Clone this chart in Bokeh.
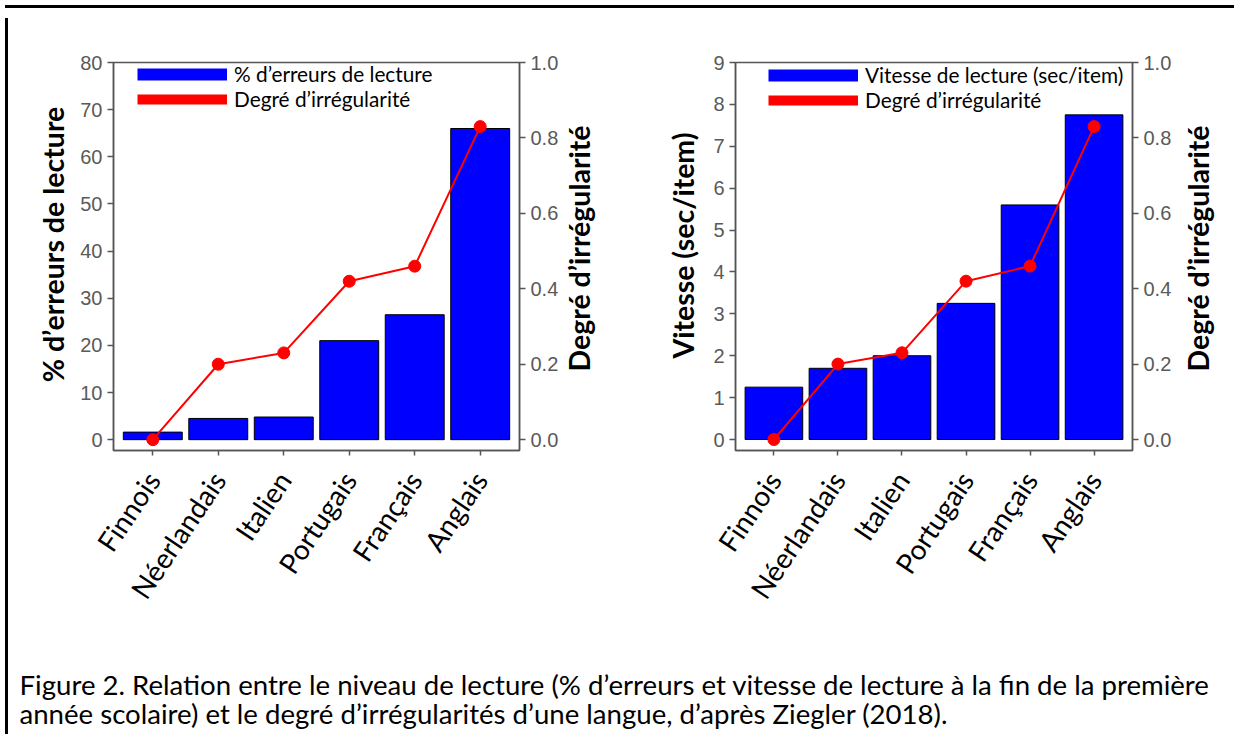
import math
from bokeh.plotting import figure
from bokeh.models import (FactorRange, Range1d, LinearAxis, FixedTicker, NumeralTickFormatter,
                          ColumnDataSource, Legend, LegendItem, Label, Div)
from bokeh.core.properties import value
from bokeh.layouts import column, row
from bokeh.embed import file_html
from bokeh.resources import INLINE

langues = ["Finnois", "Néerlandais", "Italien", "Portugais", "Français", "Anglais"]
erreurs = [1.6, 4.5, 4.8, 21.0, 26.5, 66.0]
vitesse = [1.25, 1.7, 2.0, 3.25, 5.6, 7.75]
irregularite = [0.0, 0.20, 0.23, 0.42, 0.46, 0.83]

left_ticks = [0, 10, 20, 30, 40, 50, 60, 70, 80]
right_ticks = [0.0, 0.2, 0.4, 0.6, 0.8, 1.0]
vit_ticks = [0, 1, 2, 3, 4, 5, 6, 7, 8, 9]

caption1 = "Figure 2. Relation entre le niveau de lecture (% d’erreurs et vitesse de lecture à la fin de la première"
caption2 = "année scolaire) et le degré d’irrégularités d’une langue, d’après Ziegler (2018)."

FONT = "Lato"
AX_COL = "#555555"
TICK_COL = "#5a5a5a"
H = 629
MBT = 49
MBB = 192
FH = H - MBT - MBB  # 388 px frame height


def title_fig(text, width, cx, cy):
    """Narrow figure carrying a vertical axis title (reading bottom to top).
    cx, cy: title centre in pixels inside the figure (cy measured from the frame top)."""
    t = figure(width=width, height=H, min_border_left=0, min_border_right=0,
               min_border_top=MBT, min_border_bottom=MBB,
               x_range=Range1d(0, width), y_range=Range1d(FH, 0),
               x_axis_location=None, y_axis_location=None,
               output_backend="svg", toolbar_location=None)
    t.outline_line_color = None
    t.xgrid.grid_line_color = None
    t.ygrid.grid_line_color = None
    src = ColumnDataSource(dict(x=[cx], y=[cy], text=[text]))
    t.text(x="x", y="y", text="text", source=src, angle=math.pi / 2,
           text_align="center", text_baseline="middle",
           text_font=value(FONT), text_font_style="bold", text_font_size="28.5px",
           text_color="black")
    return t


def make_chart(values, bar_label, ymax, ymin, yticks, width, bl, br, leg_x, leg_y1, leg_y2):
    src = ColumnDataSource(dict(lang=langues, val=values, irr=irregularite))
    p = figure(x_range=FactorRange(factors=langues, range_padding=0.1, range_padding_units="absolute"),
               y_range=Range1d(ymin, ymax), width=width, height=H,
               min_border_left=bl, min_border_right=br, min_border_top=MBT, min_border_bottom=MBB,
               output_backend="svg", toolbar_location=None, y_axis_location=None)
    p.extra_y_ranges = {"irr": Range1d(ymin / ymax, 1.0), "hidden": Range1d(5.0, 6.0)}
    p.xgrid.grid_line_color = None
    p.ygrid.grid_line_color = None
    p.outline_line_color = AX_COL
    p.outline_line_width = 1.5
    p.background_fill_color = "white"
    p.border_fill_color = "white"

    p.vbar(x="lang", top="val", width=0.9, source=src, fill_color="#0000FF", line_color="black", line_width=1)
    p.line(x="lang", y="irr", source=src, y_range_name="irr", line_color="#FF0000", line_width=2)
    p.scatter(x="lang", y="irr", source=src, y_range_name="irr", size=12, fill_color="#FF0000", line_color="#FF0000")

    # legend swatches (drawn out of view, only their legend glyphs show)
    r_b = p.line(x="lang", y="irr", source=src, y_range_name="hidden", line_color="#0000FF", line_width=12, line_cap="butt")
    r_r = p.line(x="lang", y="irr", source=src, y_range_name="hidden", line_color="#FF0000", line_width=10, line_cap="butt")
    for lab, rend, ly in ((bar_label, r_b, leg_y1), ("Degré d’irrégularité", r_r, leg_y2)):
        leg = Legend(items=[LegendItem(label=lab, renderers=[rend])],
                     location=(leg_x, ly), margin=0, padding=0, spacing=0,
                     glyph_width=90, glyph_height=22, label_height=22, label_standoff=7,
                     label_text_font=FONT, label_text_font_size="20.8px", label_text_color="black",
                     border_line_color=None, background_fill_alpha=0)
        p.add_layout(leg, "center")

    yl = LinearAxis(ticker=FixedTicker(ticks=yticks))
    yr = LinearAxis(y_range_name="irr", ticker=FixedTicker(ticks=right_ticks),
                    formatter=NumeralTickFormatter(format="0.0"))
    for ax in (yl, yr):
        ax.axis_line_color = AX_COL
        ax.axis_line_width = 1.5
        ax.major_tick_line_color = AX_COL
        ax.major_tick_line_width = 1.5
        ax.major_tick_in = 0
        ax.major_tick_out = 6
        ax.minor_tick_line_color = None
        ax.major_label_text_font = "Liberation Sans"
        ax.major_label_text_font_size = "20px"
        ax.major_label_text_color = TICK_COL
        ax.major_label_standoff = 5
    p.add_layout(yl, "left")
    p.add_layout(yr, "right")

    xa = p.xaxis[0]
    xa.axis_line_color = AX_COL
    xa.axis_line_width = 1.5
    xa.major_tick_line_color = AX_COL
    xa.major_tick_line_width = 1.5
    xa.major_tick_in = 0
    xa.major_tick_out = 5
    xa.major_label_orientation = 0.98
    xa.major_label_text_font = FONT
    xa.major_label_text_font_size = "28px"
    xa.major_label_text_color = "black"
    xa.major_label_standoff = 19
    return p


l1 = title_fig("% d’erreurs de lecture", 63, 39, 182)
p1 = make_chart(erreurs, "% d’erreurs de lecture", 80, -2.3, left_ticks, 487, 37, 44, 24, 364, 339)
t1 = title_fig("Degré d’irrégularité", 70, 15, 186)
l2 = title_fig("Vitesse (sec/item)", 70, 49, 183)
p2 = make_chart(vitesse, "Vitesse de lecture (sec/item)", 9, -0.2625, vit_ticks, 473, 32, 44, 33, 363, 338)
t2 = title_fig("Degré d’irrégularité", 63, 21, 186)

cap = figure(width=1226, height=87, output_backend="svg", toolbar_location=None,
             min_border=0, x_axis_location=None, y_axis_location=None,
             x_range=Range1d(0, 1), y_range=Range1d(0, 1))
cap.outline_line_color = None
cap.xgrid.grid_line_color = None
cap.ygrid.grid_line_color = None
for txt, yy in ((caption1, 45), (caption2, 16)):
    cap.add_layout(Label(x=6, y=yy, x_units="screen", y_units="screen", text=txt,
                         text_font=FONT, text_font_size="27.6px", text_color="black",
                         text_baseline="middle", text_align="left"))

top_bar = Div(text="", width=1229, height=3, styles={"background-color": "black"})
left_bar = Div(text="", width=3, height=716, styles={"background-color": "black"})

charts = row(l1, p1, t1, l2, p2, t2, spacing=0)
layout = column(top_bar, row(left_bar, column(charts, cap, spacing=0), spacing=0), spacing=0)

open("out.html", "w").write(file_html(layout, INLINE))
